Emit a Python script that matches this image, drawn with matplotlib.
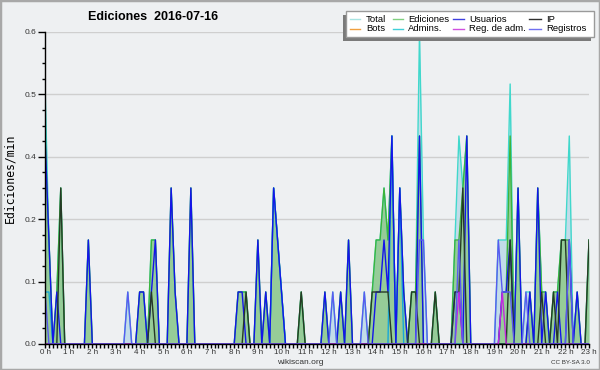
import matplotlib
matplotlib.use("Agg")
import matplotlib.pyplot as plt
from matplotlib.ticker import FixedLocator, MultipleLocator, FormatStrFormatter, FixedFormatter
from matplotlib.lines import Line2D
from matplotlib.patches import Rectangle
import numpy as np

plt.rcParams["font.family"] = ["Liberation Sans", "DejaVu Sans"]

# Edits per 10-minute slot (value shown = count / 10 edits per minute)
# one row per hour, 6 slots per hour
usuarios = [
    4, 2, 0, 1, 0, 0,
    0, 0, 0, 0, 0, 2,
    0, 0, 0, 0, 0, 0,
    0, 0, 0, 0, 0, 0,
    1, 1, 0, 1, 2, 0,
    0, 0, 3, 1, 0, 0,
    0, 3, 0, 0, 0, 0,
    0, 0, 0, 0, 0, 0,
    0, 1, 1, 0, 0, 0,
    2, 0, 1, 0, 3, 2,
    1, 0, 0, 0, 0, 0,
    0, 0, 0, 0, 0, 1,
    0, 0, 0, 1, 0, 2,
    0, 0, 0, 0, 0, 0,
    1, 1, 2, 1, 4, 0,
    3, 1, 0, 0, 0, 4,
    0, 0, 0, 0, 0, 0,
    0, 0, 1, 1, 0, 4,
    0, 0, 0, 0, 0, 0,
    0, 0, 1, 1, 2, 0,
    3, 0, 0, 1, 0, 3,
    0, 1, 0, 0, 1, 0,
    0, 2, 0, 1, 0, 0,
    0,
]
ip = [
    0, 0, 0, 0, 3, 0,
    0, 0, 0, 0, 0, 0,
    0, 0, 0, 0, 0, 0,
    0, 0, 0, 0, 0, 0,
    0, 0, 0, 1, 0, 0,
    0, 0, 0, 0, 0, 0,
    0, 0, 0, 0, 0, 0,
    0, 0, 0, 0, 0, 0,
    0, 0, 0, 1, 0, 0,
    0, 0, 0, 0, 0, 0,
    0, 0, 0, 0, 0, 1,
    0, 0, 0, 0, 0, 0,
    0, 0, 0, 0, 0, 0,
    0, 0, 0, 0, 0, 1,
    1, 1, 1, 1, 0, 0,
    0, 0, 0, 1, 1, 0,
    0, 0, 0, 1, 0, 0,
    0, 0, 1, 1, 3, 0,
    0, 0, 0, 0, 0, 0,
    0, 0, 0, 0, 2, 0,
    0, 0, 0, 0, 0, 0,
    1, 0, 0, 1, 0, 2,
    2, 0, 0, 0, 0, 0,
    2,
]
ediciones = [
    4, 2, 0, 1, 3, 0,
    0, 0, 0, 0, 0, 2,
    0, 0, 0, 0, 0, 0,
    0, 0, 0, 0, 0, 0,
    1, 1, 0, 2, 2, 0,
    0, 0, 3, 1, 0, 0,
    0, 3, 0, 0, 0, 0,
    0, 0, 0, 0, 0, 0,
    0, 1, 1, 1, 0, 0,
    2, 0, 1, 0, 3, 2,
    1, 0, 0, 0, 0, 1,
    0, 0, 0, 0, 0, 1,
    0, 0, 0, 1, 0, 2,
    0, 0, 0, 0, 0, 1,
    2, 2, 3, 2, 4, 0,
    3, 1, 0, 1, 1, 4,
    0, 0, 0, 1, 0, 0,
    0, 0, 2, 2, 3, 4,
    0, 0, 0, 0, 0, 0,
    0, 0, 1, 1, 4, 0,
    3, 0, 0, 1, 0, 3,
    1, 1, 0, 1, 1, 2,
    2, 2, 0, 1, 0, 0,
    2,
]
registros = [
    1, 0, 0, 0, 0, 0,
    0, 0, 0, 0, 0, 0,
    0, 0, 0, 0, 0, 0,
    0, 0, 0, 1, 0, 0,
    0, 0, 0, 0, 0, 0,
    0, 0, 0, 0, 0, 0,
    0, 0, 0, 0, 0, 0,
    0, 0, 0, 0, 0, 0,
    0, 0, 0, 0, 0, 0,
    0, 0, 0, 0, 0, 0,
    0, 0, 0, 0, 0, 0,
    0, 0, 0, 0, 0, 0,
    0, 1, 0, 0, 0, 0,
    0, 0, 0, 1, 0, 0,
    0, 0, 0, 0, 0, 0,
    0, 0, 0, 0, 0, 2,
    2, 0, 0, 0, 0, 0,
    0, 0, 0, 2, 0, 0,
    0, 0, 0, 0, 0, 0,
    0, 2, 1, 1, 1, 0,
    0, 0, 1, 0, 0, 0,
    0, 0, 0, 0, 0, 0,
    0, 2, 0, 0, 0, 0,
    0,
]
total = [
    5, 2, 0, 1, 3, 0,
    0, 0, 0, 0, 0, 2,
    0, 0, 0, 0, 0, 0,
    0, 0, 0, 1, 0, 0,
    1, 1, 0, 2, 2, 0,
    0, 0, 3, 1, 0, 0,
    0, 3, 0, 0, 0, 0,
    0, 0, 0, 0, 0, 0,
    0, 1, 1, 1, 0, 0,
    2, 0, 1, 0, 3, 2,
    1, 0, 0, 0, 0, 1,
    0, 0, 0, 0, 0, 1,
    0, 1, 0, 1, 0, 2,
    0, 0, 0, 1, 0, 1,
    2, 2, 3, 2, 4, 0,
    3, 1, 0, 1, 1, 6,
    2, 0, 0, 1, 0, 0,
    0, 0, 2, 4, 3, 4,
    0, 0, 0, 0, 0, 0,
    0, 2, 2, 2, 5, 0,
    3, 0, 1, 1, 0, 3,
    1, 1, 0, 1, 1, 2,
    2, 4, 0, 1, 0, 0,
    2,
]
admins = [
    1, 1, 0, 0, 0, 0,
    0, 0, 0, 0, 0, 0,
    0, 0, 0, 0, 0, 0,
    0, 0, 0, 0, 0, 0,
    0, 0, 0, 0, 0, 0,
    0, 0, 0, 0, 0, 0,
    0, 0, 0, 0, 0, 0,
    0, 0, 0, 0, 0, 0,
    0, 0, 0, 0, 0, 0,
    0, 0, 0, 0, 3, 2,
    1, 0, 0, 0, 0, 0,
    0, 0, 0, 0, 0, 0,
    0, 0, 0, 0, 0, 0,
    0, 0, 0, 0, 0, 0,
    0, 0, 0, 0, 4, 0,
    3, 0, 0, 0, 0, 0,
    0, 0, 0, 0, 0, 0,
    0, 0, 0, 0, 0, 0,
    0, 0, 0, 0, 0, 0,
    0, 0, 0, 0, 0, 0,
    0, 0, 0, 0, 0, 0,
    0, 0, 0, 0, 0, 0,
    0, 0, 0, 0, 0, 0,
    0,
]
reg_adm = [0] * 105 + [1] + [0] * 10 + [1] + [0] * 22
bots = [0] * 139

hour_labels = [f"{h} h" for h in range(24)]
y_ticks = [0.0, 0.12, 0.24, 0.36, 0.48, 0.6]

series_names = ["Total", "Ediciones", "Usuarios", "IP", "Bots", "Admins.", "Reg. de adm.", "Registros"]

slots = np.arange(len(total)) / 6.0
def rate(c):
    return np.asarray(c, dtype=float) / 10.0

BG = "#eef0f2"
fig = plt.figure(figsize=(6, 3.7), dpi=100)
fig.patch.set_facecolor(BG)
ax = fig.add_axes([45 / 600, 26 / 370, 544 / 600, 312 / 370])
ax.set_facecolor(BG)

ax.fill_between(slots, rate(total), color="#c3dce9", lw=0, zorder=1)
ax.fill_between(slots, rate(ediciones), color="#96cc98", lw=0, zorder=1.1)

lw = 1.0
ax.plot(slots, rate(total), color="#40d8cc", lw=lw, zorder=2)
ax.plot(slots, rate(ediciones), color="#3cb43c", lw=lw, zorder=2.01)
ax.plot(slots, rate(admins), color="#18a8d8", lw=lw, zorder=2.02)
ax.plot(slots, rate(usuarios), color="#1414ea", lw=lw, zorder=2.03)
ax.plot(slots, rate(ip), color="#263a26", lw=lw, zorder=2.04)
ax.plot(slots, rate(bots), color="#f0a040", lw=lw, zorder=2.0)
ax.plot(slots, rate(reg_adm), color="#c428e0", lw=lw, zorder=2.05)
ax.plot(slots, rate(registros), color="#5a5af0", lw=lw, zorder=2.06)

ax.set_xlim(0, 23)
ax.set_ylim(0, 0.6)
for s in ["top", "right"]:
    ax.spines[s].set_visible(False)
for s in ["left", "bottom"]:
    ax.spines[s].set_linewidth(1.0)
    ax.spines[s].set_zorder(5)

ax.yaxis.set_major_locator(FixedLocator(y_ticks))
ax.yaxis.set_major_formatter(FormatStrFormatter("%.1f"))
ax.yaxis.set_minor_locator(MultipleLocator(0.03))
ax.xaxis.set_major_locator(FixedLocator(list(range(24))))
ax.xaxis.set_major_formatter(FixedFormatter(hour_labels))
ax.xaxis.set_minor_locator(MultipleLocator(1 / 6))
ax.yaxis.grid(True, color="#cfcfcf", lw=1)
ax.set_axisbelow(True)

ax.tick_params(axis="y", which="major", length=5, width=1, labelsize=6, labelcolor="#333333", pad=1)
ax.tick_params(axis="y", which="minor", length=2.5, width=1)
ax.tick_params(axis="x", which="both", length=3, width=1, labelsize=5.8, labelcolor="#333333", pad=0.5)

fig.text(153 / 600, 1 - 17 / 370, "Ediciones  2016-07-16", weight="bold", fontsize=9,
         ha="center", va="center")
fig.text(10 / 600, 1 - 178 / 370, "Ediciones/min", rotation=90, family="DejaVu Sans Mono",
         fontsize=8.3, ha="center", va="center")
fig.text(300 / 600, 1 - 362 / 370, "wikiscan.org", fontsize=6, ha="center", va="center", color="#333333")
fig.text(590 / 600, 1 - 362 / 370, "CC BY-SA 3.0", fontsize=4.5, ha="right", va="center", color="#333333")

# border
fig.add_artist(Rectangle((0, 0), 1, 1, transform=fig.transFigure, fill=False,
                         edgecolor="#a8a8a8", lw=2.5, zorder=10))

# legend (manual)
def fx(px):
    return px / 600
def fy(py):
    return 1 - py / 370
fig.add_artist(Rectangle((fx(343), fy(41)), (594 - 346) / 600, (37 - 11) / 370,
                         transform=fig.transFigure, facecolor="#7a7a7a", edgecolor="none", zorder=8))
fig.add_artist(Rectangle((fx(346), fy(37)), (594 - 346) / 600, (37 - 11) / 370,
                         transform=fig.transFigure, facecolor="white", edgecolor="#9a9a9a", lw=1, zorder=9))
leg_colors = ["#a8e4e2", "#80d080", "#4040e0", "#303030", "#f0a040", "#40d0d8", "#d050e0", "#7070f0"]
col_line = [(350, 360), (393, 403), (453, 464), (529, 541)]
col_text = [366, 408, 469, 546]
row_y = [19, 28.7]
for k, name in enumerate(series_names):
    r, c = divmod(k, 4)
    x0, x1 = col_line[c]
    fig.add_artist(Line2D([fx(x0), fx(x1)], [fy(row_y[r]), fy(row_y[r])], transform=fig.transFigure,
                          color=leg_colors[k], lw=1, zorder=10))
    fig.text(fx(col_text[c]), fy(row_y[r]), name, fontsize=6.8, ha="left", va="center", zorder=11)

fig.savefig("out.png", dpi=100, facecolor=BG)
